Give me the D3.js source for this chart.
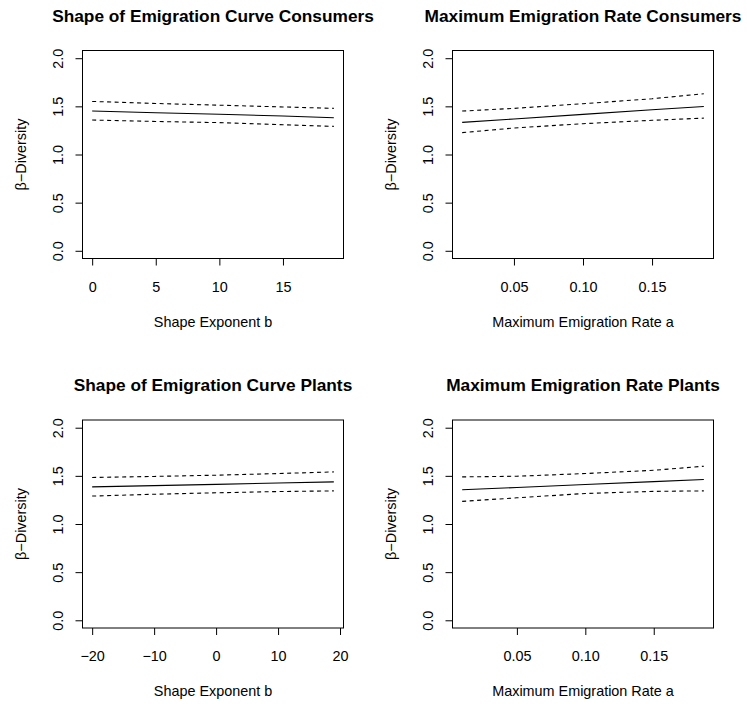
<!DOCTYPE html>
<html>
<head>
<meta charset="utf-8">
<script src="https://cdn.jsdelivr.net/npm/d3@7"></script>
<style>
  body { margin: 0; background: #fff; }
  svg text { font-family: "Liberation Sans", Arial, Helvetica, sans-serif; fill: #000; }
</style>
</head>
<body>
<div id="chart-container"></div>
<script>
// Panel titles and axis labels
var titles = ["Shape of Emigration Curve Consumers", "Maximum Emigration Rate Consumers",
              "Shape of Emigration Curve Plants", "Maximum Emigration Rate Plants"];
var xLabels = ["Shape Exponent b", "Maximum Emigration Rate a", "Shape Exponent b", "Maximum Emigration Rate a"];
var yLabel = "\u03B2\u2212Diversity";

// x values (start, quarter, middle, three quarters, end) for each panel
var xConsShape = [0, 5, 10, 15, 19];
var xConsRate = [0.0125, 0.05, 0.10, 0.15, 0.1875];
var xPlantShape = [-20, -10, 0, 10, 19];
var xPlantRate = [0.01, 0.05, 0.10, 0.15, 0.1866];

// fitted beta diversity and confidence bands
var fitConsShape = [1.451, 1.434, 1.418, 1.400, 1.382];
var upConsShape = [1.551, 1.530, 1.512, 1.494, 1.479];
var loConsShape = [1.358, 1.343, 1.331, 1.309, 1.292];

var fitConsRate = [1.334, 1.369, 1.417, 1.464, 1.499];
var upConsRate = [1.451, 1.479, 1.527, 1.579, 1.631];
var loConsRate = [1.227, 1.275, 1.320, 1.355, 1.378];

var fitPlantShape = [1.386, 1.399, 1.412, 1.425, 1.437];
var upPlantShape = [1.483, 1.494, 1.507, 1.524, 1.541];
var loPlantShape = [1.290, 1.309, 1.324, 1.337, 1.344];

var fitPlantRate = [1.355, 1.379, 1.410, 1.440, 1.462];
var upPlantRate = [1.489, 1.496, 1.524, 1.558, 1.600];
var loPlantRate = [1.235, 1.272, 1.317, 1.339, 1.344];

// tick values
var xTicks = [[0, 5, 10, 15], [0.05, 0.10, 0.15], [-20, -10, 0, 10, 20], [0.05, 0.10, 0.15]];
var yTicks = [0, 0.5, 1, 1.5, 2];

var panels = [
    { x: xConsShape, fit: fitConsShape, up: upConsShape, lo: loConsShape, fmt: d => String(d) },
    { x: xConsRate, fit: fitConsRate, up: upConsRate, lo: loConsRate, fmt: d => d.toFixed(2) },
    { x: xPlantShape, fit: fitPlantShape, up: upPlantShape, lo: loPlantShape, fmt: d => String(d).replace("-", "\u2212") },
    { x: xPlantRate, fit: fitPlantRate, up: upPlantRate, lo: loPlantRate, fmt: d => d.toFixed(2) }
];

// plot box positions
var boxW = 261, boxH = 208;
var boxLeft = [82, 452], boxTop = [50, 419.5];
var axisFont = "14.4px";

var svg = d3.select("#chart-container")
    .append("svg")
    .attr("width", 747)
    .attr("height", 704);

panels.forEach(function(p, i) {
    var col = i % 2, row = Math.floor(i / 2);
    var g = svg.append("g")
        .attr("transform", "translate(" + (boxLeft[col] + 0.5) + "," + (boxTop[row] + 0.5) + ")");

    // R style 4% extension of the data range
    var ext = d3.extent(p.x);
    var pad = (ext[1] - ext[0]) * 0.04;
    var xScale = d3.scaleLinear().domain([ext[0] - pad, ext[1] + pad]).range([0, boxW]);
    var yScale = d3.scaleLinear().domain([-0.08, 2.08]).range([boxH, 0]);

    var xAxis = d3.axisBottom(xScale).tickValues(xTicks[i]).tickFormat(p.fmt).tickSizeOuter(0).tickSize(7);
    var yAxis = d3.axisLeft(yScale).tickValues(yTicks).tickFormat(d => d.toFixed(1)).tickSizeOuter(0).tickSize(7);

    var gx = g.append("g")
        .attr("transform", "translate(0," + boxH + ")")
        .call(xAxis);
    gx.select(".domain").remove();
    gx.selectAll("text")
        .style("font-size", axisFont)
        .attr("y", 28)
        .attr("dy", "0.35em");

    var gy = g.append("g").call(yAxis);
    gy.select(".domain").remove();
    gy.selectAll("text")
        .style("font-size", axisFont)
        .attr("text-anchor", "middle")
        .attr("x", null)
        .attr("transform", "translate(-25,0) rotate(-90)")
        .attr("y", 0)
        .attr("dy", "0.35em");

    // box around the plot region
    g.append("rect")
        .attr("width", boxW)
        .attr("height", boxH)
        .attr("fill", "none")
        .attr("stroke", "#000")
        .attr("stroke-width", 1);

    var line = d3.line()
        .x((d, k) => xScale(p.x[k]))
        .y(d => yScale(d));

    g.append("path").datum(p.fit)
        .attr("fill", "none").attr("stroke", "#000").attr("stroke-width", 1.1)
        .attr("d", line);
    [p.up, p.lo].forEach(function(band) {
        g.append("path").datum(band)
            .attr("fill", "none").attr("stroke", "#000").attr("stroke-width", 1.1)
            .attr("stroke-dasharray", "4,3.5")
            .attr("d", line);
    });

    // title
    g.append("text")
        .attr("x", boxW / 2)
        .attr("y", -35)
        .attr("dy", "0.35em")
        .attr("text-anchor", "middle")
        .style("font-size", "17.3px")
        .style("font-weight", "bold")
        .text(titles[i]);

    // axis labels
    g.append("text")
        .attr("x", boxW / 2)
        .attr("y", boxH + 63)
        .attr("dy", "0.35em")
        .attr("text-anchor", "middle")
        .style("font-size", axisFont)
        .text(xLabels[i]);

    g.append("text")
        .attr("transform", "translate(-62," + (boxH / 2) + ") rotate(-90)")
        .attr("dy", "0.35em")
        .attr("text-anchor", "middle")
        .style("font-size", axisFont)
        .text(yLabel);
});
</script>
</body>
</html>
